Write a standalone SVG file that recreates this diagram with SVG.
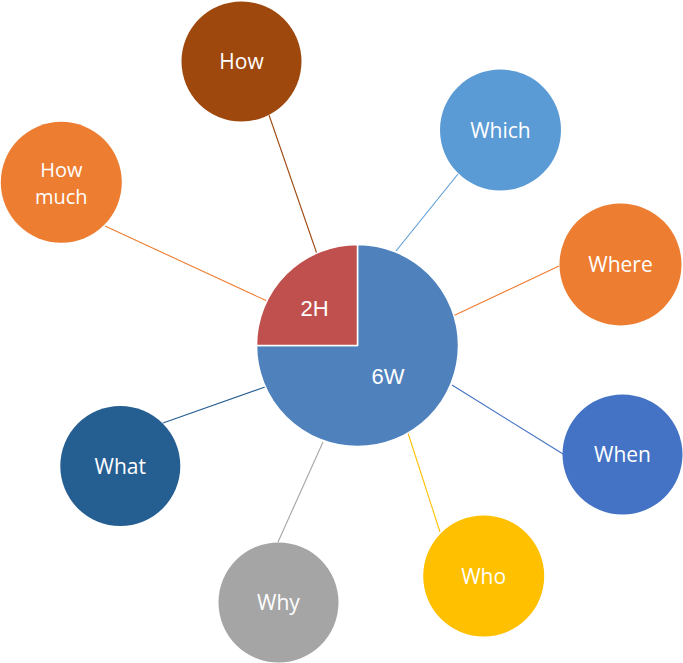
<svg xmlns="http://www.w3.org/2000/svg" width="683" height="663" viewBox="0 0 683 663">
<style>
.lbl{font-family:"Open Sans","Noto Sans",sans-serif;font-size:21px;fill:#fff;text-anchor:middle}
.sm{font-size:20px}
.pl{font-family:"Liberation Sans",Arial,sans-serif;font-size:22px;fill:#fff;text-anchor:middle}
.c line{stroke-width:1.1}
</style>
<rect width="683" height="663" fill="#fff"/>
<g class="c" id="connectors">
<line x1="269" y1="115" x2="317" y2="254" stroke="#9E480E"/>
<line x1="105" y1="226" x2="267" y2="301" stroke="#ED7D31"/>
<line x1="458" y1="174" x2="396" y2="251" stroke="#5B9BD5"/>
<line x1="453" y1="316" x2="559" y2="266" stroke="#ED7D31"/>
<line x1="452" y1="385" x2="563" y2="454" stroke="#4472C4"/>
<line x1="163" y1="423" x2="265" y2="387" stroke="#255E91"/>
<line x1="323" y1="442" x2="278" y2="542" stroke="#A5A5A5"/>
<line x1="408" y1="433" x2="440" y2="532" stroke="#FFC000"/>
</g>
<g id="pie">
<path d="M357.5,345.5 L357.5,244.5 A101,101 0 1 1 256.5,345.5 Z" fill="#4F81BD" stroke="#fff" stroke-width="1.5" stroke-linejoin="round"/>
<path d="M357.5,345.5 L256.5,345.5 A101,101 0 0 1 357.5,244.5 Z" fill="#C0504D" stroke="#fff" stroke-width="1.5" stroke-linejoin="round"/>
<text class="pl" x="314.5" y="315.5">2H</text>
<text class="pl" x="388" y="383.5">6W</text>
</g>
<g id="how"><circle cx="241.5" cy="61.5" r="60" fill="#9E480E"/><text class="lbl" x="241.5" y="69">How</text></g>
<g id="howmuch"><circle cx="61.3" cy="182.3" r="60.5" fill="#ED7D31"/><text class="lbl sm" x="61.3" y="176.8">How</text><text class="lbl sm" x="61.3" y="204.4">much</text></g>
<g id="which"><circle cx="500.5" cy="130" r="60.5" fill="#5B9BD5"/><text class="lbl" x="500.5" y="137.5">Which</text></g>
<g id="where"><circle cx="620.5" cy="264.5" r="61" fill="#ED7D31"/><text class="lbl" x="620.5" y="272">Where</text></g>
<g id="when"><circle cx="622.5" cy="454.5" r="60" fill="#4472C4"/><text class="lbl" x="622.5" y="462">When</text></g>
<g id="what"><circle cx="120.3" cy="466" r="60" fill="#255E91"/><text class="lbl" x="120.3" y="473.5">What</text></g>
<g id="who"><circle cx="483.7" cy="576" r="60.5" fill="#FFC000"/><text class="lbl" x="483.7" y="583.5">Who</text></g>
<g id="why"><circle cx="278.5" cy="602.5" r="60" fill="#A5A5A5"/><text class="lbl" x="278.5" y="610">Why</text></g>
</svg>
